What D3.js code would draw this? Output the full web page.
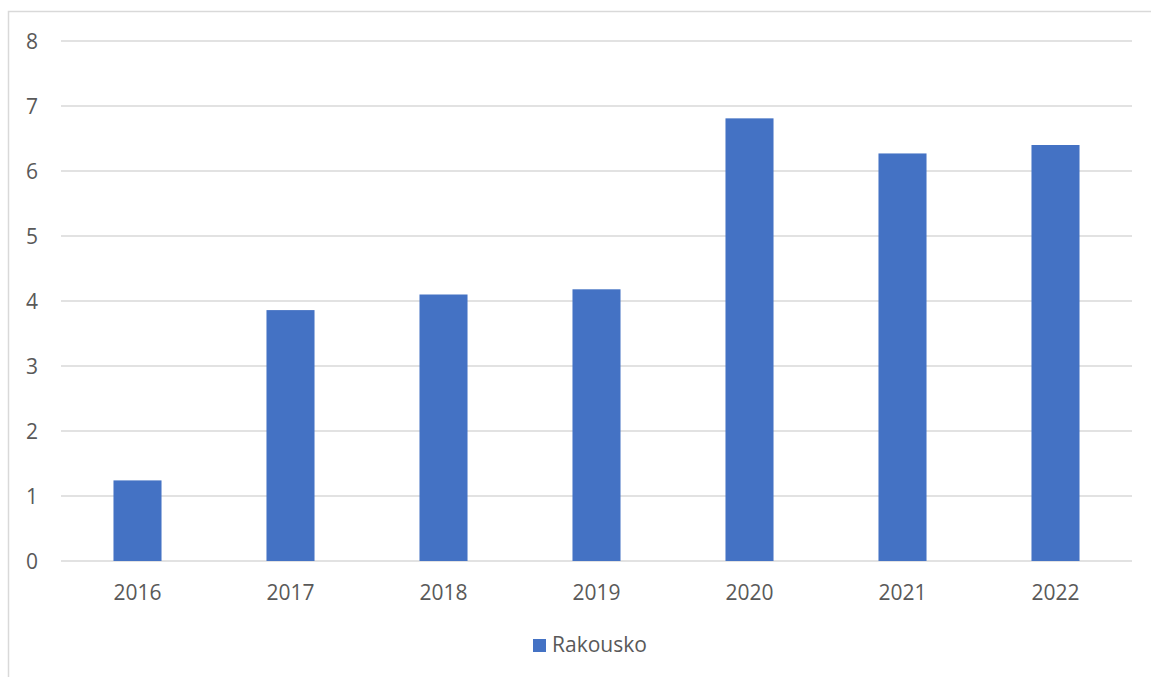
<!DOCTYPE html>
<html><head><meta charset="utf-8">
<script src="https://cdn.jsdelivr.net/npm/d3@7"></script>
<style>html,body{margin:0;padding:0;background:#fff;}svg{display:block;}</style>
</head><body>
<script>
const categories = ["2016","2017","2018","2019","2020","2021","2022"];
const values = [1.24, 3.86, 4.10, 4.18, 6.81, 6.27, 6.40];
const yTicks = [0,1,2,3,4,5,6,7,8];
const seriesName = "Rakousko";

const W = 1151, H = 677;
const svg = d3.select("body").append("svg").attr("width", W).attr("height", H);
const font = "'Open Sans', 'Noto Sans', sans-serif";
const fs = 21;

// frame
svg.append("rect").attr("x", 8.5).attr("y", 11.5).attr("width", W + 20).attr("height", H + 20)
  .attr("fill", "none").attr("stroke", "#d9d9d9").attr("stroke-width", 1.5);

const x0 = 61, x1 = 1132, yBottom = 561, yTop = 41;
const x = d3.scaleBand().domain(categories).range([x0, x1]).paddingInner(0.686).paddingOuter(0.343);
const y = d3.scaleLinear().domain([0, 8]).range([yBottom, yTop]);

// gridlines
svg.append("g").selectAll("line").data(yTicks).join("line")
  .attr("x1", x0).attr("x2", x1)
  .attr("y1", d => y(d)).attr("y2", d => y(d))
  .attr("stroke", "#d9d9d9").attr("stroke-width", 1.5);

// y labels
svg.append("g").selectAll("text").data(yTicks).join("text")
  .attr("x", 38).attr("y", d => y(d)).attr("dy", "0.36em")
  .attr("text-anchor", "end").attr("font-family", font).attr("font-size", fs)
  .attr("fill", "#595959").text(d => d);

// bars
svg.append("g").selectAll("rect").data(values).join("rect")
  .attr("x", (d, i) => x(categories[i])).attr("width", x.bandwidth())
  .attr("y", d => y(d)).attr("height", d => y(0) - y(d))
  .attr("fill", "#4472c4");

// x labels
svg.append("g").selectAll("text").data(categories).join("text")
  .attr("x", d => x(d) + x.bandwidth() / 2).attr("y", 600)
  .attr("text-anchor", "middle").attr("font-family", font).attr("font-size", fs)
  .attr("fill", "#595959").text(d => d);

// legend
const lg = svg.append("g");
lg.append("rect").attr("x", 533).attr("y", 639).attr("width", 13).attr("height", 13).attr("fill", "#4472c4");
lg.append("text").attr("x", 552).attr("y", 652).attr("font-family", font).attr("font-size", fs)
  .attr("fill", "#595959").text(seriesName);
</script>
</body></html>
